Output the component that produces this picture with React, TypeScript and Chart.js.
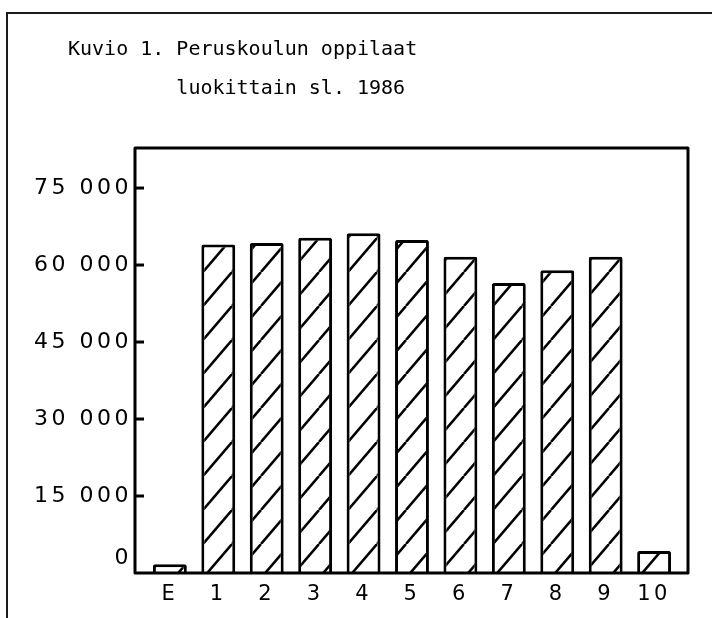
import { useEffect, useRef } from 'react';
import { Chart, registerables } from 'chart.js';

Chart.register(...registerables);

const categories = ['E', '1', '2', '3', '4', '5', '6', '7', '8', '9', '10'];
const pupils = [1700, 64000, 64300, 65300, 66200, 64900, 61600, 56500, 59000, 61600, 4300];
const yTicks = [0, 15000, 30000, 45000, 60000, 75000];
const titleLines = ['Kuvio 1. Peruskoulun oppilaat', '         luokittain sl. 1986'];
const yMax = 82800;

function makeHatch(): CanvasPattern | string {
  const w = 29;
  const h = 34;
  const c = document.createElement('canvas');
  c.width = w;
  c.height = h;
  const ctx = c.getContext('2d');
  if (!ctx) return '#fff';
  ctx.fillStyle = '#fff';
  ctx.fillRect(0, 0, w, h);
  ctx.strokeStyle = '#000';
  ctx.lineWidth = 2.5;
  for (const k of [-1, 0, 1]) {
    ctx.beginPath();
    ctx.moveTo(k * w, h);
    ctx.lineTo(k * w + w, 0);
    ctx.stroke();
  }
  return ctx.createPattern(c, 'repeat') || '#fff';
}

const framePlugin = {
  id: 'frame',
  afterLayout(chart: any) {
    if (chart.titleBlock) chart.titleBlock.left = 68;
  },
  beforeDraw(chart: any) {
    const ctx = chart.ctx;
    ctx.save();
    ctx.fillStyle = '#fff';
    ctx.fillRect(0, 0, chart.width, chart.height);
    ctx.strokeStyle = '#1a1a1a';
    ctx.lineWidth = 2;
    ctx.beginPath();
    ctx.moveTo(7, chart.height);
    ctx.lineTo(7, 13);
    ctx.lineTo(chart.width, 13);
    ctx.stroke();
    ctx.restore();
  },
  afterDatasetsDraw(chart: any) {
    const { ctx, chartArea: a, scales } = chart;
    ctx.save();
    ctx.strokeStyle = '#000';
    ctx.lineWidth = 3;
    ctx.lineJoin = 'round';
    ctx.strokeRect(a.left, a.top, a.right - a.left, a.bottom - a.top);
    yTicks.forEach((v) => {
      if (v === 0) return;
      const y = scales.y.getPixelForValue(v);
      ctx.beginPath();
      ctx.moveTo(a.left, y);
      ctx.lineTo(a.left + 9, y);
      ctx.stroke();
    });
    ctx.restore();
    (ctx as any).letterSpacing = '3.5px';
  },
  afterDraw(chart: any) {
    (chart.ctx as any).letterSpacing = '0px';
  },
};

export default function App() {
  const ref = useRef<HTMLCanvasElement | null>(null);

  useEffect(() => {
    if (!ref.current) return;
    const hatch = makeHatch();
    const chart = new Chart(ref.current, {
      type: 'bar',
      data: {
        datasets: [
          {
            data: pupils.map((v, i) => ({ x: i, y: v })),
            backgroundColor: hatch as any,
            borderColor: '#000',
            borderWidth: 3,
            borderRadius: 2,
            barPercentage: 0.7,
            categoryPercentage: 1,
          },
        ],
      },
      options: {
        animation: false,
        responsive: false,
        devicePixelRatio: 1,
        layout: { padding: { left: 0, right: 24, top: 0, bottom: 0 } },
        plugins: {
          legend: { display: false },
          tooltip: { enabled: false },
          title: {
            display: true,
            text: titleLines,
            align: 'start',
            color: '#000',
            font: { family: 'DejaVu Sans Mono', size: 20, weight: 'normal', lineHeight: 1.95 },
            padding: { top: 30, bottom: 40 },
          },
        },
        scales: {
          x: {
            type: 'linear',
            offset: false,
            min: -0.72,
            max: 10.7,
            grid: { display: false, offset: false },
            border: { display: false },
            afterBuildTicks: (s: any) => {
              s.ticks = categories.map((_, i) => ({ value: i }));
            },
            afterFit: (s: any) => {
              s.height = 45;
            },
            ticks: {
              z: 1,
              padding: 1,
              color: '#000',
              autoSkip: false,
              maxRotation: 0,
              font: { family: 'DejaVu Sans', size: 21, lineHeight: 1.2 },
              callback: (v: any) => categories[v] ?? '',
            },
          },
          y: {
            min: 0,
            max: yMax,
            grid: { display: false, drawTicks: false },
            border: { display: false },
            afterBuildTicks: (s: any) => {
              s.ticks = yTicks.map((v) => ({ value: v }));
            },
            afterFit: (s: any) => {
              s.width = 135;
            },
            ticks: {
              z: 1,
              padding: 3,
              color: '#000',
              font: { family: 'DejaVu Sans', size: 22, lineHeight: 1.3 },
              callback: (v: any) => (v === 0 ? ['0', ''] : `${v / 1000} 000`),
            },
          },
        },
      },
      plugins: [framePlugin],
    });
    return () => chart.destroy();
  }, []);

  return (
    <canvas
      ref={ref}
      width={712}
      height={618}
      style={{ position: 'absolute', left: 0, top: 0 }}
    />
  );
}
